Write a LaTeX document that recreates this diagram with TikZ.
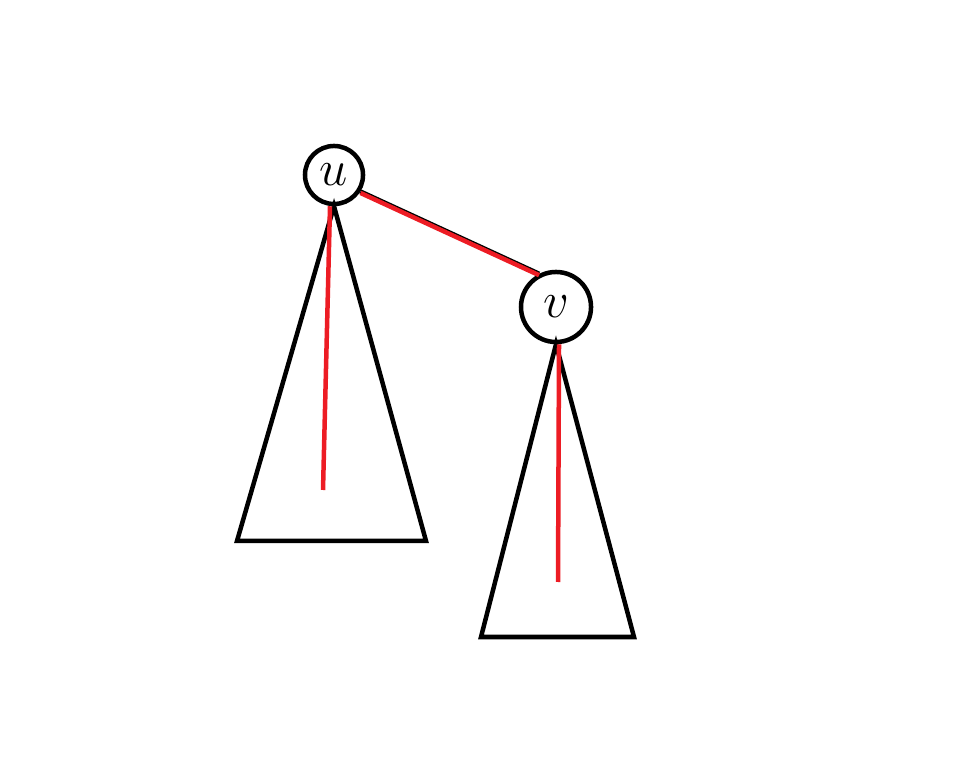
\documentclass[tikz,border=0pt]{standalone}
\usetikzlibrary{positioning}
\definecolor{paintred}{RGB}{237,28,36}
\begin{document}
\begin{tikzpicture}[x=0.01cm, y=-0.01cm, line width=0.045cm,
    vertex/.style={draw, circle, fill=white, inner sep=0pt, font=\fontsize{15}{18}\selectfont}]
            \useasboundingbox (0,0) rectangle (980,768);
            % vertices
            \node[vertex, minimum size=0.58cm] (u) at (334, 175) {$u$};
            \node[vertex, minimum size=0.70cm] (v) at (556, 307) {$v$};

            % subtrees
            \coordinate (uL) at (237, 541);
            \coordinate (uR) at (426, 541);
            \coordinate (vL) at (481, 637);
            \coordinate (vR) at (634, 637);
            \draw (u.south) -- (uL) -- (uR) -- cycle;
            \draw (v.south) -- (vL) -- (vR) -- cycle;

            % edge
            \draw (u.-32) -- (v.117);
            \draw[paintred, transform canvas={yshift=-0.4pt}] (u.-32) -- (v.117);

            % paths
            \coordinate (uEnd) at (323, 490);
            \coordinate (vEnd) at (558, 582);
            \draw[paintred] ([xshift=-0.04cm]u.south) -- (uEnd);
            \draw[paintred] ([xshift=0.03cm]v.south) -- (vEnd);
        \end{tikzpicture}
\end{document}
